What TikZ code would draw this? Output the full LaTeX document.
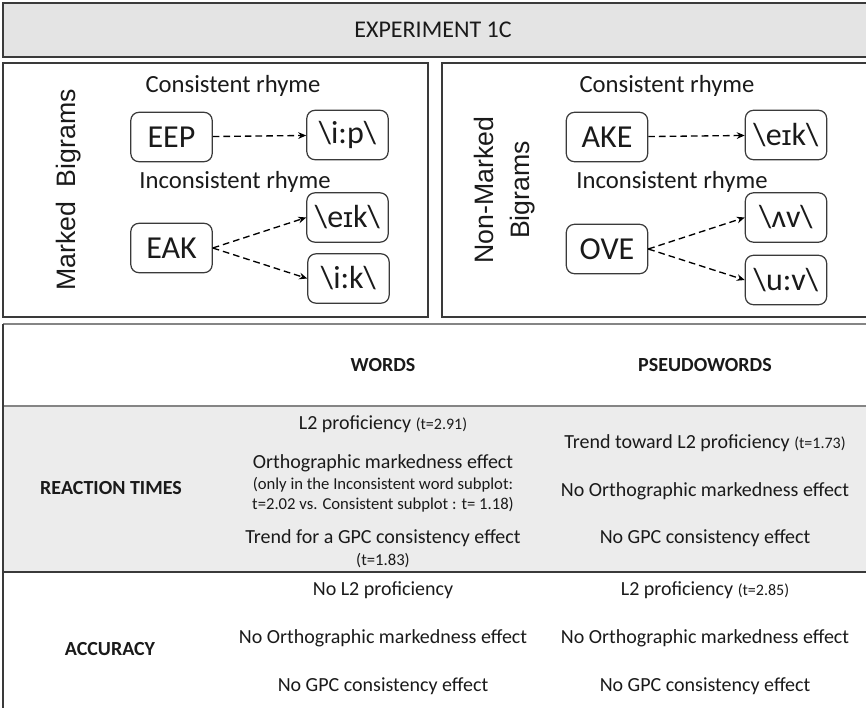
\documentclass[tikz,border=0pt]{standalone}
\usepackage{fontspec}
\setmainfont{Carlito}
\newfontfamily\arialfont{Liberation Sans}
\newcommand\tsm{\fontsize{12}{14}\selectfont}
\newcommand\smallcapi{{\arialfont\fontsize{21}{24}\selectfont ɪ}}
\usetikzlibrary{arrows.meta}
\definecolor{titlegray}{HTML}{E4E4E4}
\definecolor{rowgray}{HTML}{ECECEC}
\definecolor{edge}{HTML}{3A3A3A}
\definecolor{midline}{HTML}{858585}
\definecolor{txt}{HTML}{1A1A1A}
\begin{document}
\begin{tikzpicture}[x=0.75pt,y=-0.75pt,
  wordbox/.style={draw=edge, line width=0.9pt, rounded corners=6pt, minimum width=61pt, minimum height=37pt, inner sep=1pt, font=\fontsize{24}{28}\selectfont, text=txt},
  flow/.style={draw=black, line width=1pt, dash pattern=on 5pt off 3pt, -{Stealth[length=6pt,width=5pt]}},
  paneltitle/.style={font=\fontsize{18.5}{22}\selectfont, text=txt},
  sidelabel/.style={font=\arialfont\fontsize{20}{27}\selectfont, text=txt, rotate=90, align=center},
  cell/.style={font=\fontsize{15}{18}\selectfont, text=txt, align=center},
  head/.style={font=\bfseries\fontsize{15}{18}\selectfont, text=txt},
  note/.style={font=\fontsize{12.5}{15}\selectfont}
]
\useasboundingbox (0,0) rectangle (866,707);
\clip (0,0) rectangle (866,707);

% title bar
\draw[fill=titlegray, draw=edge, line width=1pt] (3,3) rectangle (880,57);
\node[font=\fontsize{18}{22}\selectfont, text=txt] (title) at (433,30) {EXPERIMENT 1C};

% panels
\draw[draw=edge, line width=1pt] (3,63) rectangle (428,317);
\draw[draw=edge, line width=1pt] (442,63) rectangle (880,317);

% left panel
\node[sidelabel] (mb) at (69,190) {Marked\ \ Bigrams};
\node[paneltitle] (lcons) at (233,86) {Consistent rhyme};
\node[paneltitle] (lincons) at (235,182) {Inconsistent rhyme};
\node[wordbox] (eep) at (171.5,137) {EEP};
\node[wordbox] (ip) at (347.5,135) {\textbackslash i:p\textbackslash};
\node[wordbox] (eak) at (171.5,248) {EAK};
\node[wordbox] (eik) at (347.5,217.5) {\textbackslash e\smallcapi k\textbackslash};
\node[wordbox] (ik) at (348.5,278.5) {\textbackslash i:k\textbackslash};
\draw[flow] (eep) -- (ip);
\draw[flow] (eak.east) -- (eik.west);
\draw[flow] (eak.east) -- (ik.west);

% right panel
\node[sidelabel] (nmb) at (505,190) {Non-Marked\\Bigrams};
\node[paneltitle] (rcons) at (667,86) {Consistent rhyme};
\node[paneltitle] (rincons) at (672,182) {Inconsistent rhyme};
\node[wordbox] (ake) at (607,137) {AKE};
\node[wordbox] (eik2) at (786,135) {\textbackslash e\smallcapi k\textbackslash};
\node[wordbox] (ove) at (607,249) {OVE};
\node[wordbox] (av) at (786,217.5) {\textbackslash ʌv\textbackslash};
\node[wordbox] (uv) at (786,280) {\textbackslash u:v\textbackslash};
\draw[flow] (ake) -- (eik2);
\draw[flow] (ove.east) -- (av.west);
\draw[flow] (ove.east) -- (uv.west);

% table
\fill[rowgray] (3,406) rectangle (880,572);
\draw[midline, line width=1.6pt] (3,324) -- (880,324);
\draw[midline, line width=1.3pt] (3,406) -- (880,406);
\draw[edge, line width=1.2pt] (3,572) -- (880,572);
\draw[edge, line width=0.8pt] (3,324) -- (3,710);

\node[head] (hw) at (383,365) {WORDS};
\node[head] (hp) at (705,365) {PSEUDOWORDS};
\node[head] (hrt) at (111,488) {REACTION TIMES};
\node[head] (hacc) at (110,649) {ACCURACY};

\node[cell] (w1) at (383,424) {L2 proficiency {\tsm(t=2.91)}};
\node[cell] (w2) at (383,463) {Orthographic markedness effect};
\node[cell, note] (w3) at (383,495) {(only in the Inconsistent word subplot:\\t=2.02 vs. Consistent subplot : t= 1.18)};
\node[cell] (w4) at (383,538) {Trend for a GPC consistency effect};
\node[cell, note] (w5) at (383,561) {(t=1.83)};

\node[cell] (p1) at (705,443) {Trend toward L2 proficiency {\tsm(t=1.73)}};
\node[cell] (p2) at (705,491) {No Orthographic markedness effect};
\node[cell] (p3) at (705,538) {No GPC consistency effect};

\node[cell] (w6) at (383,590) {No L2 proficiency};
\node[cell] (w7) at (383,638) {No Orthographic markedness effect};
\node[cell] (w8) at (383,686) {No GPC consistency effect};

\node[cell] (p4) at (705,590) {L2 proficiency {\tsm(t=2.85)}};
\node[cell] (p5) at (705,638) {No Orthographic markedness effect};
\node[cell] (p6) at (705,686) {No GPC consistency effect};
\end{tikzpicture}
\end{document}
